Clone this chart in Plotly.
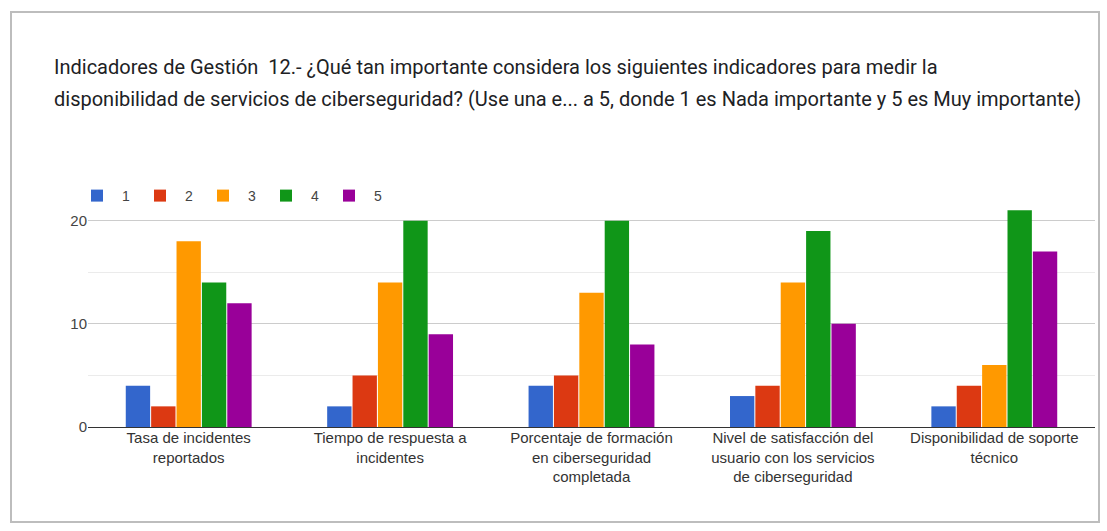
import plotly.graph_objects as go

categories = [
    "Tasa de incidentes<br>reportados",
    "Tiempo de respuesta a<br>incidentes",
    "Porcentaje de formación<br>en ciberseguridad<br>completada",
    "Nivel de satisfacción del<br>usuario con los servicios<br>de ciberseguridad",
    "Disponibilidad de soporte<br>técnico",
]
series_names = ["1", "2", "3", "4", "5"]
values_1 = [4, 2, 4, 3, 2]
values_2 = [2, 5, 5, 4, 4]
values_3 = [18, 14, 13, 14, 6]
values_4 = [14, 20, 20, 19, 21]
values_5 = [12, 9, 8, 10, 17]
all_values = [values_1, values_2, values_3, values_4, values_5]
colors = ["#3366cc", "#dc3912", "#ff9900", "#109618", "#990099"]

title_line1 = "Indicadores de Gestión  12.- ¿Qué tan importante considera los siguientes indicadores para medir la"
title_line2 = "disponibilidad de servicios de ciberseguridad? (Use una e... a 5, donde 1 es Nada importante y 5 es Muy importante)"

W, H = 1107, 531
L, R, T, B = 88, 12, 200, 104
pw, ph = W - L - R, H - T - B

def px_x(x):
    return (x - L) / pw

def px_y(y):
    return (H - B - y) / ph

fig = go.Figure()
for name, vals, c in zip(series_names, all_values, colors):
    fig.add_trace(go.Bar(x=categories, y=vals, name=name, marker_color=c,
                         marker_line_width=0))

fig.update_layout(
    width=W, height=H,
    margin=dict(l=L, r=R, t=T, b=B),
    paper_bgcolor="white", plot_bgcolor="white",
    barmode="group", bargap=0.37, bargroupgap=0.04,
    font=dict(family="Liberation Sans, Arial", size=14, color="#444444"),
    showlegend=True,
    legend=dict(orientation="h", x=px_x(72), xanchor="left", y=px_y(196), yanchor="middle",
                font=dict(size=14, color="#444444"), itemwidth=40, traceorder="normal"),
    xaxis=dict(showgrid=False, tickfont=dict(size=15, color="#333333"), ticks="",
               showline=False),
    yaxis=dict(range=[0, 22], dtick=10, tick0=0, showgrid=True, gridcolor="#cccccc",
               zeroline=True, zerolinecolor="#333333", zerolinewidth=1,
               tickfont=dict(size=15, color="#444444"), ticks="", showline=False,
               minor=dict(dtick=5, showgrid=True, gridcolor="#ebebeb")),
    shapes=[
        dict(type="rect", xref="paper", yref="paper",
             x0=px_x(11), x1=px_x(1099), y0=px_y(522), y1=px_y(12),
             line=dict(color="#bdbdbd", width=2), fillcolor="rgba(0,0,0,0)", layer="below"),
    ],
    annotations=[
        dict(text=title_line1, xref="paper", yref="paper", x=px_x(52), y=px_y(67),
             xanchor="left", yanchor="middle", showarrow=False,
             font=dict(family="Roboto", size=20, color="#202124")),
        dict(text=title_line2, xref="paper", yref="paper", x=px_x(52), y=px_y(99),
             xanchor="left", yanchor="middle", showarrow=False,
             font=dict(family="Roboto", size=20, color="#202124")),
    ],
)

fig.write_html("out.html")
